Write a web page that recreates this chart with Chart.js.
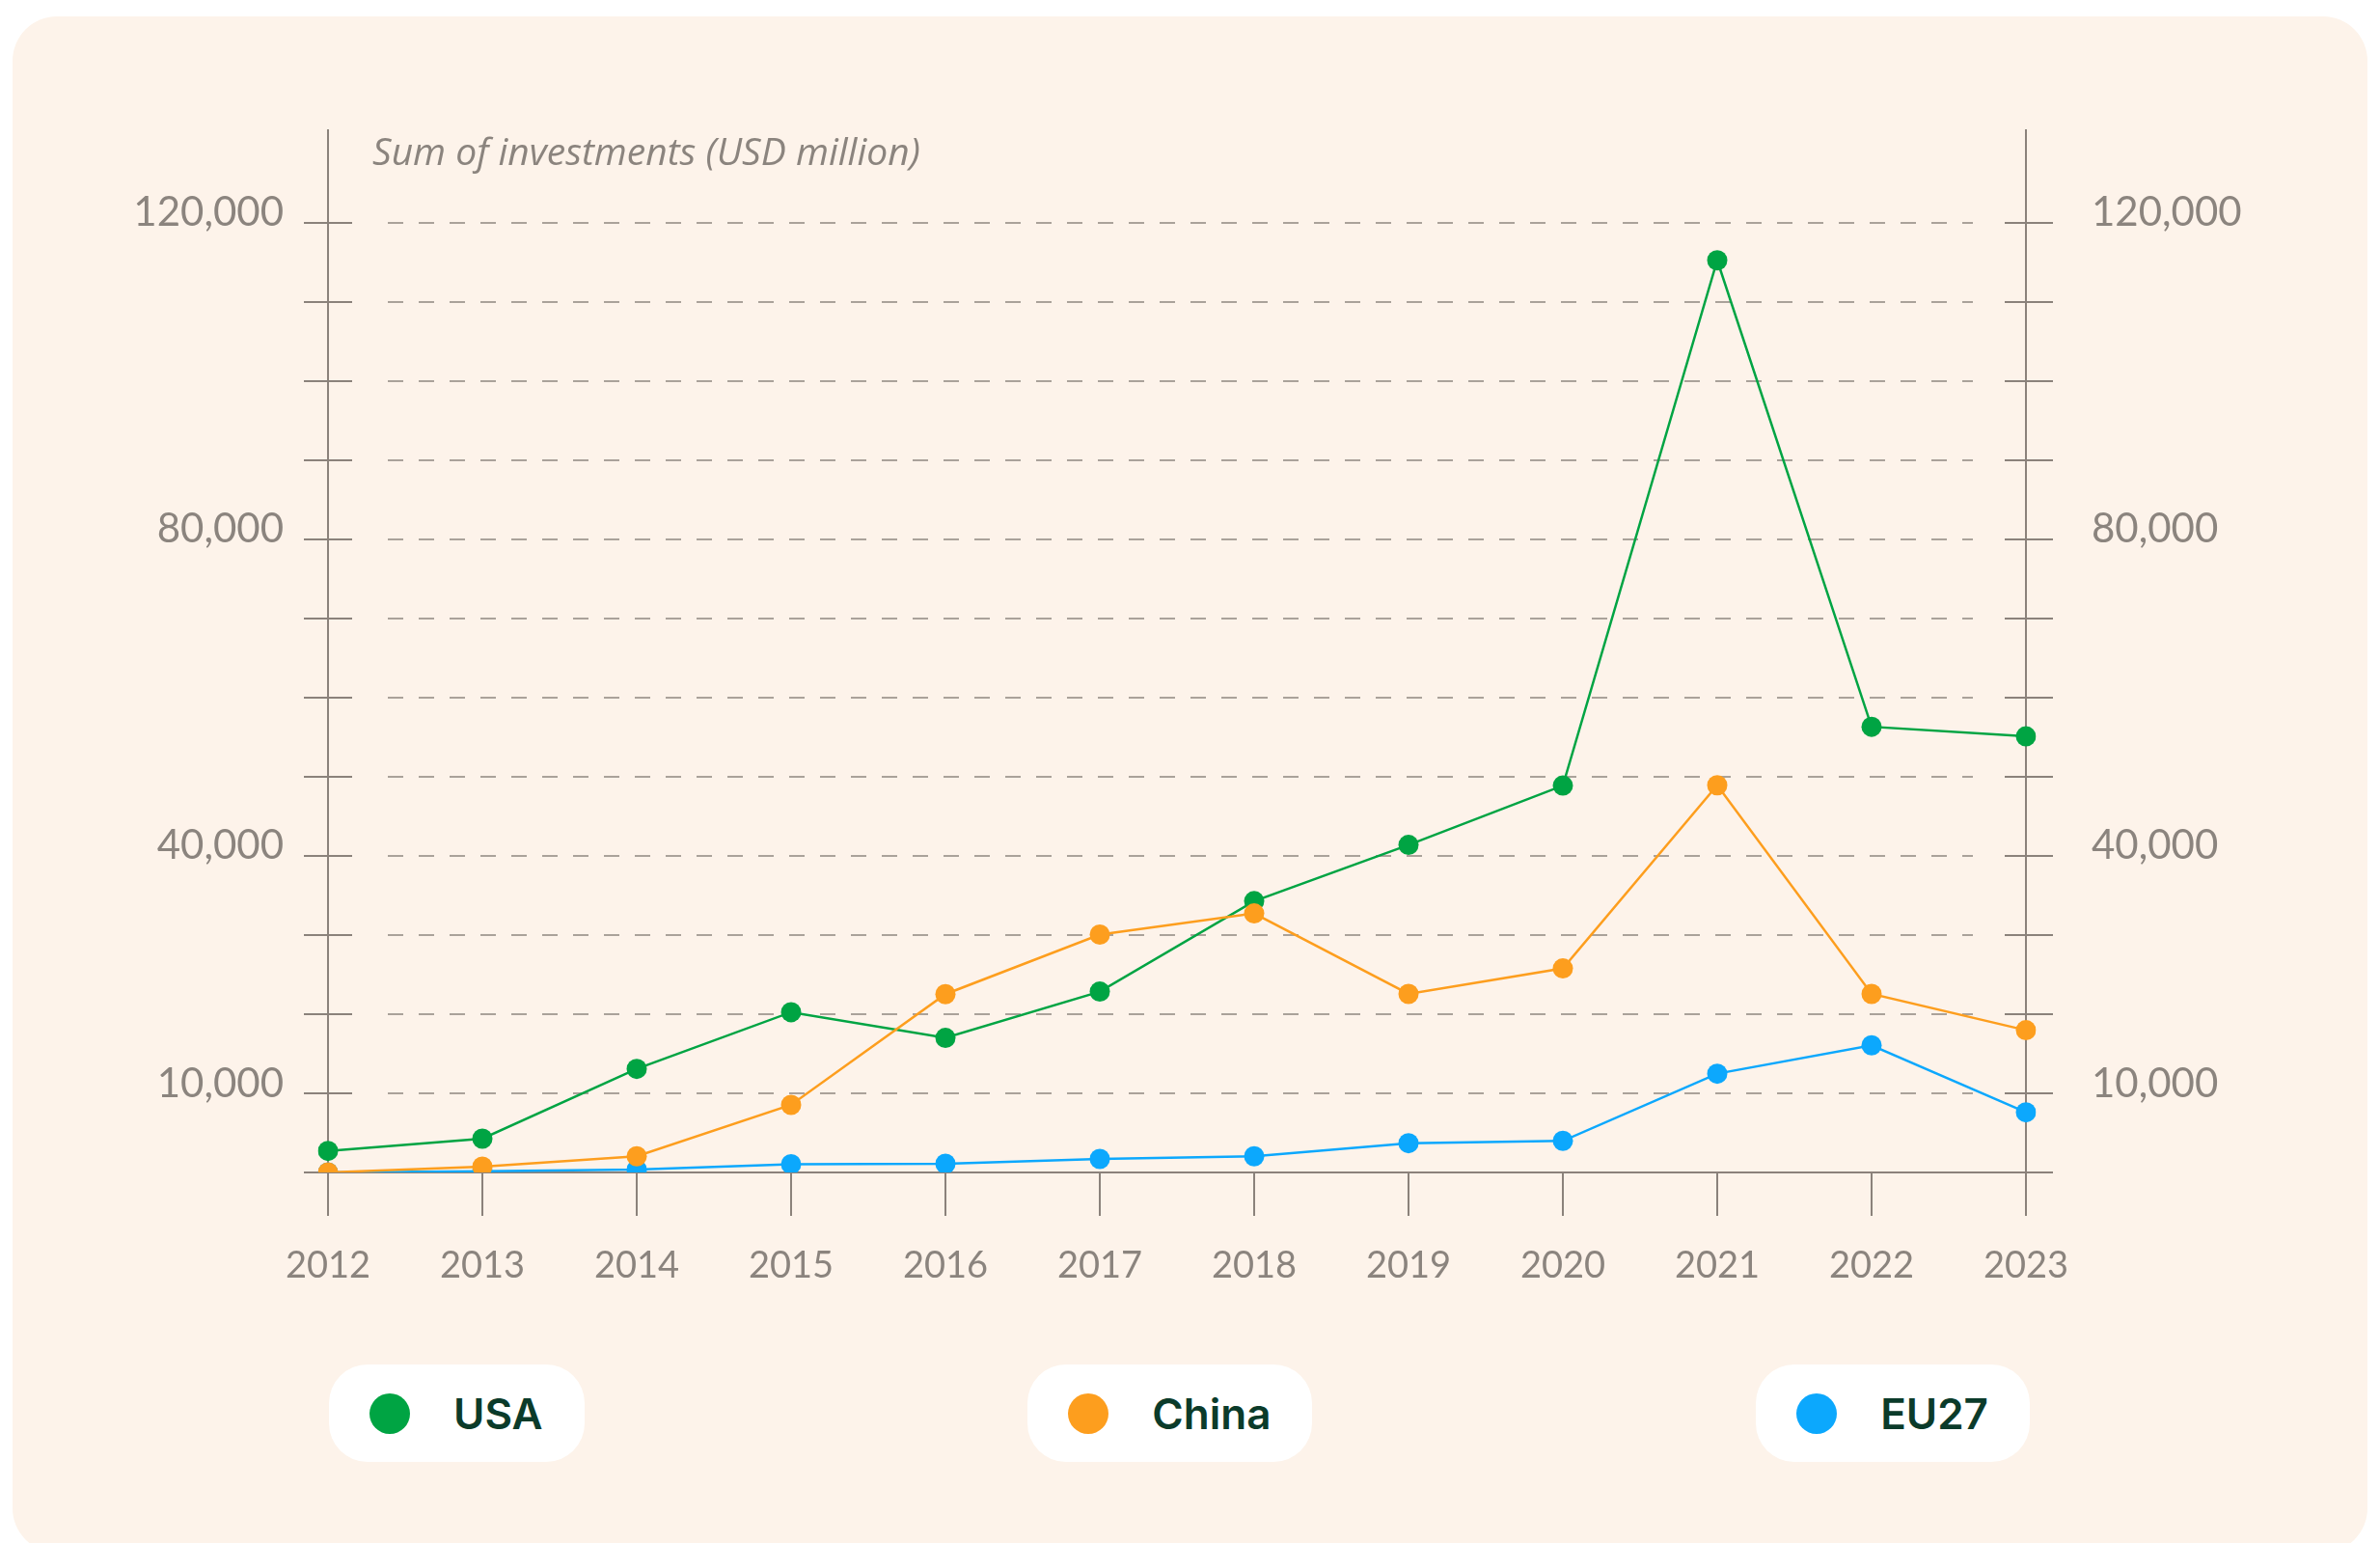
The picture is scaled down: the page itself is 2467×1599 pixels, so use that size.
<!DOCTYPE html>
<html>
<head>
<meta charset="utf-8">
<script src="https://cdn.jsdelivr.net/npm/chart.js@4.4.1/dist/chart.umd.min.js"></script>
<style>
  html, body { margin: 0; padding: 0; background: #ffffff; width: 2467px; height: 1599px; overflow: hidden; }
  #card { position: absolute; left: 13px; top: 17px; width: 2441px; height: 1592px; border-radius: 46px; background: #fdf3ea; }
  #chart { position: absolute; left: 0; top: 0; }
  #title { position: absolute; left: 386px; top: 134px; font-family: "Open Sans", sans-serif; font-style: italic; font-size: 39px; line-height: 44px; color: #8b847e; white-space: nowrap; }
  #legend { position: absolute; left: 341px; top: 1414px; width: 1763px; height: 101px; display: flex; justify-content: space-between; }
  .pill { height: 101px; border-radius: 40px; background: #ffffff; display: flex; align-items: center; padding: 0 43px 0 42px; box-sizing: border-box; }
  .dot { width: 42px; height: 42px; border-radius: 50%; margin-right: 45px; }
  .lbl { font-family: Inter, sans-serif; font-weight: 600; font-size: 44px; color: #0b3b2a; line-height: 1; }
</style>
</head>
<body>
<div id="card"></div>
<canvas id="chart" width="2467" height="1400"></canvas>
<div id="title">Sum of investments (USD million)</div>
<div id="legend"></div>
<script>
// ---- data ----
const years = ['2012','2013','2014','2015','2016','2017','2018','2019','2020','2021','2022','2023'];
const seriesNames = ['USA', 'China', 'EU27'];
const usaValues   = [2720, 4270, 13090, 20250, 17000, 22850, 34280, 41380, 48880, 115250, 56310, 55100];
const chinaValues = [0, 730, 2040, 8540, 22530, 30050, 32730, 22560, 25780, 48920, 22560, 17970];
const eu27Values  = [0, 150, 370, 1050, 1100, 1710, 2040, 3700, 3990, 12480, 16060, 7600];
const yTickValues = [0, 10000, 20000, 30000, 40000, 50000, 60000, 70000, 80000, 90000, 100000, 110000, 120000];
const yLabelledValues = [10000, 40000, 80000, 120000];

// ---- style ----
const colors = ['#00a443', '#fd9e1e', '#0ca8fd'];
const axisColor = '#8b827b';
const gridColor = '#aaa29a';
const textColor = '#8b847e';

const seriesValues = [usaValues, chinaValues, eu27Values];
const drawOrder = [1, 0, 2];

// legend (HTML)
const legendEl = document.getElementById('legend');
seriesNames.forEach((name, i) => {
  const pill = document.createElement('div'); pill.className = 'pill';
  const dot = document.createElement('div'); dot.className = 'dot'; dot.style.background = colors[i];
  const lbl = document.createElement('div'); lbl.className = 'lbl'; lbl.textContent = name;
  pill.appendChild(dot); pill.appendChild(lbl); legendEl.appendChild(pill);
});

const axesPlugin = {
  id: 'customAxes',
  beforeDatasetsDraw(chart) {
    const ctx = chart.ctx;
    const x = chart.scales.x, y = chart.scales.y;
    const area = chart.chartArea;
    const L = area.left, R = area.right, B = area.bottom, T = area.top;
    ctx.save();
    // dashed grid
    ctx.strokeStyle = gridColor; ctx.lineWidth = 2; ctx.setLineDash([16, 16]);
    yTickValues.forEach(v => {
      if (v === 0) return;
      const py = Math.round(y.getPixelForValue(v));
      ctx.beginPath(); ctx.moveTo(L + 62, py); ctx.lineTo(R - 55, py); ctx.stroke();
    });
    ctx.setLineDash([]);
    ctx.strokeStyle = axisColor; ctx.lineWidth = 2;
    // y tick marks (both axes)
    yTickValues.forEach(v => {
      const py = Math.round(y.getPixelForValue(v));
      ctx.beginPath(); ctx.moveTo(L - 25, py); ctx.lineTo(L + 25, py); ctx.stroke();
      ctx.beginPath(); ctx.moveTo(R - 22, py); ctx.lineTo(R + 28, py); ctx.stroke();
    });
    // x tick marks
    years.forEach((yr, i) => {
      const px = Math.round(x.getPixelForValue(i));
      ctx.beginPath(); ctx.moveTo(px, B); ctx.lineTo(px, B + 45); ctx.stroke();
    });
    // axis lines
    ctx.beginPath(); ctx.moveTo(L, T); ctx.lineTo(L, B + 45); ctx.stroke();
    ctx.beginPath(); ctx.moveTo(R, T); ctx.lineTo(R, B + 45); ctx.stroke();
    ctx.beginPath(); ctx.moveTo(L - 25, B); ctx.lineTo(R + 28, B); ctx.stroke();
    ctx.restore();
  }
};

const yLabel = v => yLabelledValues.includes(v) ? v.toLocaleString('en-US') : '';

Chart.defaults.font.family = 'Lato, sans-serif';
Chart.defaults.color = textColor;

new Chart(document.getElementById('chart'), {
  type: 'line',
  data: {
    labels: years,
    datasets: seriesNames.map((name, i) => ({
      label: name,
      data: seriesValues[i],
      borderColor: colors[i],
      backgroundColor: colors[i],
      pointBackgroundColor: colors[i],
      pointBorderWidth: 0,
      pointRadius: 10.5,
      borderWidth: 2.5,
      tension: 0,
      order: drawOrder[i],
      yAxisID: 'y'
    }))
  },
  options: {
    responsive: false,
    animation: false,
    devicePixelRatio: 1,
    layout: { padding: { top: 134, left: 0, right: 0, bottom: 0 } },
    plugins: { legend: { display: false }, tooltip: { enabled: false } },
    scales: {
      x: {
        type: 'category',
        offset: false,
        grid: { display: false },
        border: { display: false },
        ticks: { font: { size: 38 }, color: textColor, padding: 66, maxRotation: 0, autoSkip: false },
        afterFit: s => { s.height = 185; }
      },
      y: {
        position: 'left',
        min: 0, max: 131800,
        grid: { display: false },
        border: { display: false },
        afterBuildTicks: s => { s.ticks = yTickValues.map(v => ({ value: v })); },
        ticks: { font: { size: 42 }, color: textColor, padding: 38, labelOffset: -10, callback: yLabel },
        afterFit: s => { s.width = 340; }
      },
      y2: {
        position: 'right',
        min: 0, max: 131800,
        grid: { display: false },
        border: { display: false },
        afterBuildTicks: s => { s.ticks = yTickValues.map(v => ({ value: v })); },
        ticks: { font: { size: 42 }, color: textColor, padding: 60, labelOffset: -10, callback: yLabel },
        afterFit: s => { s.width = 367; }
      }
    }
  },
  plugins: [axesPlugin]
});
</script>
</body>
</html>
